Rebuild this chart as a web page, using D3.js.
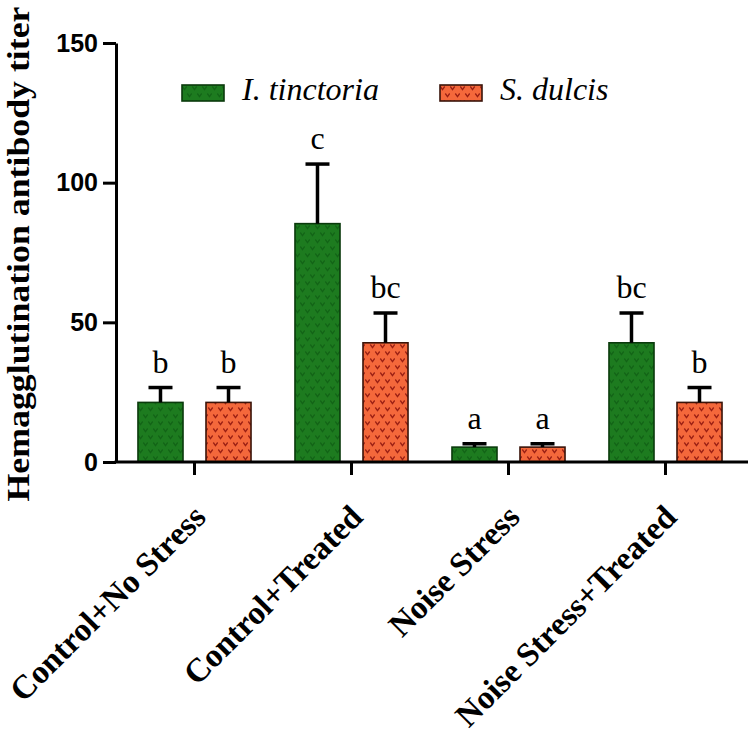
<!DOCTYPE html>
<html>
<head>
<meta charset="utf-8">
<script src="https://cdn.jsdelivr.net/npm/d3@7"></script>
<style>
  html, body { margin: 0; padding: 0; background: #fff; }
  svg { display: block; }
</style>
</head>
<body>
<div id="chart"></div>
<script>
// ---- data ----
const categories = ["Control+No Stress", "Control+Treated", "Noise Stress", "Noise Stress+Treated"];
const seriesNames = ["I. tinctoria", "S. dulcis"];
const tinctoriaMean = [21.33, 85.33, 5.33, 42.67];
const tinctoriaSE   = [5.33, 21.33, 1.2, 10.67];
const dulcisMean    = [21.33, 42.67, 5.33, 21.33];
const dulcisSE      = [5.33, 10.67, 1.2, 5.33];
const tinctoriaLetters = ["b", "c", "a", "bc"];
const dulcisLetters    = ["b", "bc", "a", "b"];
const yTicks = [0, 50, 100, 150];
const yTitle = "Hemagglutination antibody titer";

const W = 750, H = 733;
const svg = d3.select("#chart").append("svg").attr("width", W).attr("height", H);

// patterns
const defs = svg.append("defs");
const fills = [
  {id: "pGreen", base: "#1d7b1f", mark: "#126416", stroke: "#0a3a0c"},
  {id: "pOrange", base: "#f4683b", mark: "#9a1e12", stroke: "#3a140a"}
];
fills.forEach(f => {
  const p = defs.append("pattern").attr("id", f.id).attr("patternUnits", "userSpaceOnUse")
    .attr("width", 10).attr("height", 14);
  p.append("rect").attr("width", 10).attr("height", 14).attr("fill", f.base);
  [[2.5, 3], [7.5, 10]].forEach(([cx, cy]) => {
    p.append("path").attr("d", `M${cx-2.2},${cy-1.5} L${cx},${cy+1.6} L${cx+2.2},${cy-1.5}`)
      .attr("fill", "none").attr("stroke", f.mark).attr("stroke-width", 1.3);
  });
});

// scales
const y = d3.scaleLinear().domain([0, 150]).range([462, 43]);
const x0 = d3.scaleBand().domain(categories).range([116, 744]).paddingInner(0.28).paddingOuter(0.14);
const x1 = d3.scaleBand().domain(seriesNames).range([0, x0.bandwidth()]).paddingInner(0.338);

const data = categories.map((c, i) => ({
  cat: c,
  vals: [
    {s: seriesNames[0], m: tinctoriaMean[i], e: tinctoriaSE[i], l: tinctoriaLetters[i], f: fills[0]},
    {s: seriesNames[1], m: dulcisMean[i], e: dulcisSE[i], l: dulcisLetters[i], f: fills[1]}
  ]
}));

const g = svg.append("g");
const groups = g.selectAll("g.grp").data(data).join("g").attr("class", "grp")
  .attr("transform", d => `translate(${x0(d.cat)},0)`);

const bw = x1.bandwidth();
const capW = 24;
groups.selectAll("rect.bar").data(d => d.vals).join("rect").attr("class", "bar")
  .attr("x", d => x1(d.s)).attr("y", d => y(d.m))
  .attr("width", bw).attr("height", d => y(0) - y(d.m))
  .attr("fill", d => `url(#${d.f.id})`).attr("stroke", d => d.f.stroke).attr("stroke-width", 1.6);

// error bars
groups.selectAll("line.err").data(d => d.vals).join("line").attr("class", "err")
  .attr("x1", d => x1(d.s) + bw / 2).attr("x2", d => x1(d.s) + bw / 2)
  .attr("y1", d => y(d.m)).attr("y2", d => y(d.m + d.e))
  .attr("stroke", "#000").attr("stroke-width", 3.5);
groups.selectAll("line.cap").data(d => d.vals).join("line").attr("class", "cap")
  .attr("x1", d => x1(d.s) + bw / 2 - capW / 2).attr("x2", d => x1(d.s) + bw / 2 + capW / 2)
  .attr("y1", d => y(d.m + d.e)).attr("y2", d => y(d.m + d.e))
  .attr("stroke", "#000").attr("stroke-width", 3.5);

// letters
groups.selectAll("text.sig").data(d => d.vals).join("text").attr("class", "sig")
  .attr("x", d => x1(d.s) + bw / 2).attr("y", d => y(d.m + d.e) - 15)
  .attr("text-anchor", "middle")
  .style("font-family", "'Liberation Serif', 'Times New Roman', serif")
  .style("font-size", "32px").attr("fill", "#000")
  .text(d => d.l);

// y axis
const yAxis = svg.append("g").attr("transform", "translate(116,0)")
  .call(d3.axisLeft(y).tickValues(yTicks).tickSize(13).tickSizeOuter(0).tickPadding(5));
yAxis.select(".domain").attr("stroke", "#000").attr("stroke-width", 3);
yAxis.selectAll(".tick line").attr("stroke", "#000").attr("stroke-width", 3);
yAxis.selectAll(".tick text")
  .style("font-family", "'Liberation Sans', Arial, sans-serif")
  .style("font-weight", "bold").style("font-size", "25px").attr("fill", "#000");

// x axis
const xAxis = svg.append("g").attr("transform", "translate(0,462)")
  .call(d3.axisBottom(x0).tickSize(13).tickSizeOuter(0));
xAxis.select(".domain").remove();
xAxis.append("line").attr("x1", 116 - 1.5).attr("x2", 748).attr("y1", 0).attr("y2", 0)
  .attr("stroke", "#000").attr("stroke-width", 3);
xAxis.selectAll(".tick line").attr("stroke", "#000").attr("stroke-width", 3);
xAxis.selectAll(".tick text")
  .attr("x", 0).attr("y", 0).attr("dy", 0)
  .attr("text-anchor", "end")
  .attr("transform", "translate(13,57) rotate(-45)")
  .style("font-family", "'Liberation Serif', 'Times New Roman', serif")
  .style("font-weight", "bold").style("font-size", "33px").attr("fill", "#000");

// y title
svg.append("text")
  .attr("transform", "translate(29,254) rotate(-90)")
  .attr("text-anchor", "middle")
  .attr("textLength", 495).attr("lengthAdjust", "spacingAndGlyphs")
  .style("font-family", "'Liberation Serif', 'Times New Roman', serif")
  .style("font-weight", "bold").style("font-size", "31px").attr("fill", "#000")
  .text(yTitle);

// legend
const legendX = [182, 440];
const leg = svg.append("g").selectAll("g").data(seriesNames).join("g")
  .attr("transform", (d, i) => `translate(${legendX[i]},85)`);
leg.append("rect").attr("width", 42).attr("height", 16)
  .attr("fill", (d, i) => `url(#${fills[i].id})`).attr("stroke", (d, i) => fills[i].stroke).attr("stroke-width", 1.6);
leg.append("text").attr("x", 60).attr("y", 15)
  .style("font-family", "'Liberation Serif', 'Times New Roman', serif")
  .style("font-style", "italic").style("font-size", "32px").attr("fill", "#000")
  .text(d => d);
</script>
</body>
</html>
